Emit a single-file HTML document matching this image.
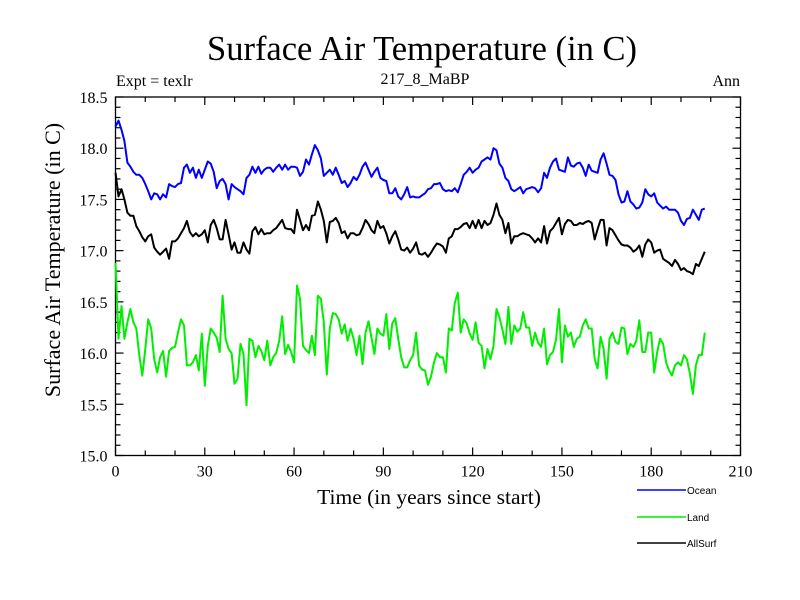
<!DOCTYPE html>
<html><head><meta charset="utf-8"><style>
body{margin:0;background:#fff;}
svg{display:block;}
text{font-family:"Liberation Serif",serif;fill:#000;}
</style></head><body>
<svg id="chart" width="800" height="600">
<text x="422" y="60" font-size="34.5" text-anchor="middle">Surface Air Temperature (in C)</text>
<text x="116" y="86" font-size="16">Expt = texlr</text>
<text x="425" y="84" font-size="16" text-anchor="middle">217_8_MaBP</text>
<text x="740" y="86" font-size="16" text-anchor="end">Ann</text>
<text transform="translate(60,260) rotate(-90)" font-size="22" text-anchor="middle">Surface Air Temperature (in C)</text>
<text x="429" y="504" font-size="21.5" text-anchor="middle">Time (in years since start)</text>
<g id="axes"></g>
<g id="series"></g>
<g id="legend"></g>
</svg>
<script>
const ocean = [18.21,18.27,18.18,18.07,17.86,17.82,17.77,17.74,17.74,17.71,17.65,17.58,17.50,17.56,17.55,17.50,17.55,17.52,17.65,17.63,17.62,17.65,17.66,17.81,17.84,17.76,17.81,17.71,17.79,17.71,17.79,17.87,17.85,17.77,17.61,17.68,17.70,17.65,17.50,17.65,17.62,17.60,17.58,17.55,17.71,17.74,17.82,17.76,17.82,17.75,17.79,17.81,17.81,17.77,17.81,17.84,17.79,17.84,17.79,17.82,17.82,17.81,17.73,17.77,17.89,17.84,17.94,18.03,17.98,17.90,17.73,17.76,17.79,17.74,17.81,17.74,17.66,17.68,17.62,17.66,17.72,17.69,17.74,17.82,17.86,17.79,17.72,17.77,17.81,17.71,17.69,17.68,17.56,17.56,17.61,17.53,17.50,17.55,17.62,17.52,17.53,17.52,17.52,17.54,17.56,17.60,17.61,17.65,17.65,17.66,17.60,17.58,17.59,17.58,17.61,17.57,17.65,17.74,17.77,17.81,17.76,17.79,17.81,17.87,17.89,17.91,17.89,18.00,17.98,17.85,17.81,17.71,17.68,17.60,17.58,17.60,17.62,17.56,17.60,17.61,17.62,17.61,17.57,17.61,17.76,17.71,17.81,17.87,17.90,17.79,17.78,17.77,17.91,17.83,17.82,17.85,17.86,17.81,17.73,17.84,17.78,17.77,17.76,17.89,17.95,17.85,17.74,17.73,17.69,17.55,17.47,17.48,17.58,17.48,17.45,17.41,17.42,17.47,17.60,17.55,17.53,17.56,17.47,17.44,17.41,17.43,17.40,17.40,17.40,17.37,17.29,17.25,17.31,17.32,17.40,17.35,17.30,17.40,17.41];
const land = [16.88,16.14,16.46,16.14,16.30,16.43,16.30,16.24,15.98,15.78,16.04,16.33,16.24,15.94,15.81,15.96,16.02,15.77,16.02,16.05,16.06,16.20,16.33,16.27,15.88,15.88,15.91,15.98,15.83,16.19,15.68,16.07,16.24,16.20,16.15,16.01,16.56,16.14,16.04,16.00,15.70,15.75,16.09,15.99,15.49,16.14,16.12,15.96,16.07,16.02,15.93,16.12,15.88,15.96,16.00,16.12,16.36,15.99,16.08,16.01,15.91,16.66,16.53,16.07,16.03,16.00,16.17,15.98,16.56,16.53,16.30,15.79,16.24,16.39,16.38,16.33,16.19,16.28,16.12,16.24,16.14,15.98,16.17,15.89,16.20,16.31,16.15,15.99,16.24,16.19,16.17,16.38,16.04,16.29,16.34,16.14,15.96,15.86,15.86,15.93,15.98,16.20,15.88,15.84,15.83,15.69,15.77,15.91,16.00,15.96,15.96,15.81,16.24,16.22,16.49,16.59,16.20,16.33,16.29,16.19,16.13,16.30,16.10,16.07,15.85,16.04,15.94,16.07,16.43,16.35,16.23,16.09,16.45,16.09,16.27,16.21,16.24,16.40,16.25,16.25,16.07,16.20,16.10,16.06,16.24,15.89,15.98,16.01,16.13,16.43,15.91,16.27,16.16,16.20,16.06,16.14,16.16,16.27,16.33,16.24,16.24,15.94,15.85,16.16,16.04,15.75,16.14,16.20,16.11,16.09,16.25,16.24,15.99,16.09,16.06,16.12,16.32,16.01,16.01,16.20,16.20,15.81,16.01,16.14,16.09,15.91,15.83,15.78,15.88,15.91,15.88,15.98,15.94,15.80,15.60,15.88,15.98,15.98,16.20];
const allSurf = [17.76,17.53,17.60,17.50,17.37,17.34,17.34,17.24,17.19,17.13,17.09,17.14,17.16,17.03,16.99,16.96,16.99,17.02,16.92,17.09,17.09,17.12,17.17,17.22,17.29,17.18,17.14,17.17,17.14,17.16,17.20,17.08,17.25,17.30,17.22,17.11,17.11,17.30,17.16,17.01,17.08,16.98,16.98,17.08,17.01,16.97,17.19,17.23,17.16,17.21,17.16,17.17,17.17,17.20,17.22,17.26,17.30,17.22,17.21,17.21,17.17,17.40,17.30,17.20,17.25,17.20,17.34,17.35,17.48,17.40,17.29,17.08,17.28,17.29,17.32,17.27,17.17,17.19,17.12,17.17,17.17,17.15,17.16,17.22,17.30,17.26,17.20,17.17,17.29,17.22,17.24,17.17,17.07,17.14,17.19,17.11,17.01,17.00,17.03,16.98,17.02,17.08,16.97,16.96,16.98,16.94,16.98,17.03,17.07,17.06,17.04,16.98,17.12,17.14,17.21,17.21,17.23,17.26,17.27,17.22,17.29,17.22,17.30,17.22,17.29,17.25,17.27,17.35,17.46,17.35,17.30,17.17,17.27,17.07,17.14,17.14,17.16,17.17,17.16,17.15,17.12,17.08,17.12,17.08,17.24,17.07,17.19,17.22,17.27,17.32,17.16,17.26,17.30,17.29,17.25,17.25,17.27,17.26,17.28,17.29,17.27,17.11,17.21,17.30,17.30,17.05,17.22,17.20,17.15,17.10,17.06,17.05,17.05,17.03,16.99,17.01,17.05,16.94,17.06,17.11,17.08,16.98,17.00,17.01,16.92,16.90,16.88,16.85,16.91,16.87,16.81,16.83,16.80,16.79,16.77,16.87,16.85,16.92,16.99];
const xTicks = [0,30,60,90,120,150,180,210];
const yTicks = [15.0,15.5,16.0,16.5,17.0,17.5,18.0,18.5];
const seriesNames = ["Ocean","Land","AllSurf"];

const NS="http://www.w3.org/2000/svg";
const L=115.5,R=740.5,T=97,B=455.5;
const xMin=0,xMax=210,yMin=15,yMax=18.5;
const sx=v=>L+(v-xMin)/(xMax-xMin)*(R-L);
const sy=v=>B-(v-yMin)/(yMax-yMin)*(B-T);
function mk(tag,attrs,parent){const e=document.createElementNS(NS,tag);for(const k in attrs)e.setAttribute(k,attrs[k]);parent.appendChild(e);return e;}
const axes=document.getElementById('axes');
const frame=mk('rect',{x:L,y:T,width:R-L,height:B-T,fill:'none',stroke:'#000','stroke-width':1.3},axes);


for(let v=xMin;v<=xMax;v+=10){const big=(v%30===0);const len=big?8:5;
 const t1=mk('line',{x1:sx(v),x2:sx(v),y1:B,y2:B-len,stroke:'#000','stroke-width':1.2},axes);
 
 
 const t2=mk('line',{x1:sx(v),x2:sx(v),y1:T,y2:T+len,stroke:'#000','stroke-width':1.2},axes);
 
 }
for(let i=0;i<=35;i++){const v=yMin+i*0.1;const big=(i%5===0);const len=big?8:5;
 const t1=mk('line',{x1:L,x2:L+len,y1:sy(v),y2:sy(v),stroke:'#000','stroke-width':1.2},axes);
 
 
 const t2=mk('line',{x1:R,x2:R-len,y1:sy(v),y2:sy(v),stroke:'#000','stroke-width':1.2},axes);
 
 }
xTicks.forEach(v=>{const t=mk('text',{x:sx(v),y:B+21,'font-size':16,'text-anchor':'middle'},axes);t.textContent=v;
 
 });
yTicks.forEach(v=>{const t=mk('text',{x:L-8,y:sy(v)+6,'font-size':16,'text-anchor':'end'},axes);t.textContent=v.toFixed(1);
 
 });
const sg=document.getElementById('series');
const datasets=[[ocean,'#0000ff'],[land,'#00ee00'],[allSurf,'#000000']];
datasets.forEach(([d,c],k)=>{
 const pts=d.map((v,i)=>sx(i).toFixed(1)+','+sy(v).toFixed(1)).join(' ');
 const p=mk('polyline',{points:pts,fill:'none',stroke:c,'stroke-width':2,'stroke-linejoin':'round'},sg);
 
 
});
const lg=document.getElementById('legend');
const lys=[490,517,543];
datasets.forEach(([d,c],k)=>{
 const ln=mk('line',{x1:637,x2:686,y1:lys[k],y2:lys[k],stroke:c,'stroke-width':1.5},lg);
 
 
 const t=mk('text',{x:687,y:lys[k]+4,'font-size':10,style:'font-family:"Liberation Sans",sans-serif'},lg);
 t.textContent=seriesNames[k];
 
 
});
</script>
</body></html>
